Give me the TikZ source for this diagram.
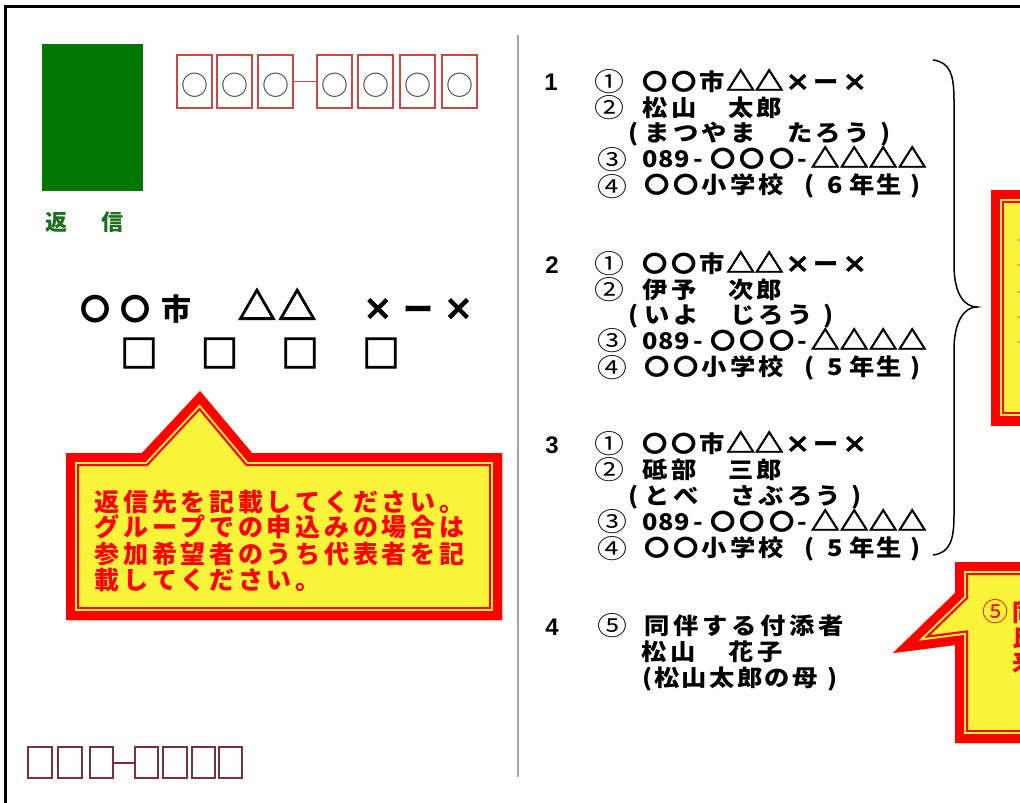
\documentclass[tikz,border=0pt]{standalone}
\usepackage{fontspec}
\usepackage{graphicx}
\newfontfamily\jp{Noto Sans CJK JP}
\newfontfamily\jpw{Noto Sans CJK JP}[FakeStretch=1.1]
\newfontfamily\jpcn{Noto Sans CJK JP}[FakeStretch=1.15]
\newfontfamily\lsans{Liberation Sans}
\definecolor{redc}{RGB}{255,0,0}
\definecolor{yelc}{RGB}{249,243,57}
\definecolor{stampgreen}{RGB}{0,119,0}
\definecolor{textgreen}{RGB}{30,110,30}
\definecolor{postred}{RGB}{205,70,70}
\definecolor{postdark}{RGB}{120,50,60}
\definecolor{sepgray}{RGB}{165,165,165}
\definecolor{dashorange}{RGB}{250,175,60}
\newcommand\cells[2]{\def\cellw{#1}\cellsloop#2\relax}
\def\cellsloop#1{\ifx\relax#1\else\makebox[\cellw][c]{#1}\expandafter\cellsloop\fi}
% bold, slightly enlarged symbols
\def\tri{{\addfontfeature{FakeBold=2.5}\scalebox{1.15}{△}}}
\def\crs{{\addfontfeature{FakeBold=2}×}}
\def\btri{{\addfontfeature{FakeBold=2.4}\scalebox{1.28}{△}}}
\def\bcrs{{\addfontfeature{FakeBold=2.4}×}}
\newcommand\callout[1]{%
  \fill[yelc] #1;
  \begin{scope}
    \clip #1;
    \draw[redc,line width=26pt,line join=miter] #1;
    \draw[yelc,line width=21.6pt,line join=miter] #1;
    \draw[redc,line width=17.6pt,line join=miter] #1;
  \end{scope}}
\tikzset{
  lst/.style={anchor=base west,inner sep=0pt,font=\jpw\bfseries\fontsize{23pt}{23pt}\selectfont},
  circnum/.style={anchor=center,inner sep=0pt,font=\jpcn\fontsize{26pt}{26pt}\selectfont},
  grpnum/.style={anchor=base,inner sep=0pt,font=\lsans\bfseries\fontsize{24pt}{24pt}\selectfont},
  addr/.style={anchor=base west,inner sep=0pt,font=\jp\bfseries\fontsize{30pt}{30pt}\selectfont},
  sqr/.style={anchor=center,inner sep=0pt,font=\jp\bfseries\fontsize{38pt}{38pt}\addfontfeature{FakeBold=2.5}\selectfont},
  caltext/.style={anchor=base west,inner sep=0pt,text=redc,font=\jp\bfseries\fontsize{25pt}{25pt}\selectfont},
  topbox/.style={draw=postred,line width=1.5pt,minimum width=35pt,minimum height=53pt,inner sep=0pt},
  postcirc/.style={anchor=center,inner sep=0pt,text=black!75,font=\jp\fontsize{27pt}{27pt}\selectfont},
  botbox/.style={draw=postdark,line width=2pt,minimum width=23.5pt,minimum height=31pt,inner sep=0pt},
}
\begin{document}
\begin{tikzpicture}[x=1pt,y=-1pt]
\useasboundingbox (0,0) rectangle (1020,803);
\clip (0,0) rectangle (1020,803);
\fill[white] (0,0) rectangle (1020,803);
% frame
\draw[black,line width=3pt] (5,803) -- (5,6.5) -- (1020,6.5);
% stamp
\node[fill=stampgreen,minimum width=101pt,minimum height=147pt,inner sep=0pt] (stamp) at (92.5,117.5) {};
\node[anchor=base,inner sep=0pt,text=textgreen,font=\jp\bfseries\fontsize{22pt}{22pt}\selectfont] (hen) at (56,230) {返};
\node[anchor=base,inner sep=0pt,text=textgreen,font=\jp\bfseries\fontsize{22pt}{22pt}\selectfont] (shin) at (112,230) {信};
% top postal boxes
\foreach \px [count=\i] in {194.5,234.5,275.5,334.5,375.5,417.5,459.5}{
  \node[topbox] (p\i) at (\px,81.5) {};
  \node[postcirc] (pc\i) at (\px,85) {○};
}
\draw[postred,line width=1.5pt] (p3.east) -- (p4.west);
% address
\node[addr] (ad1) at (75.35,320) {\cells{40.3pt}{〇〇市　\btri\btri　\bcrs ー\bcrs}};
\node[sqr] (sq1) at (139,353) {□};
\node[sqr] (sq2) at (219.5,353) {□};
\node[sqr] (sq3) at (300,353) {□};
\node[sqr] (sq4) at (381,353) {□};
% left callout
\callout{(66,453) -- (142,453) -- (200,391) -- (252,453) -- (502,453) -- (502,620) -- (66,620) -- cycle}
\node[caltext] (ct1) at (92.65,511.5) {\cells{28.7pt}{返信先を記載してください。}};
\node[caltext] (ct2) at (92.65,536.5) {\cells{28.7pt}{グループでの申込みの場合は}};
\node[caltext] (ct3) at (92.65,563.5) {\cells{28.7pt}{参加希望者のうち代表者を記}};
\node[caltext] (ct4) at (92.65,589.5) {\cells{28.7pt}{載してください。}};
% bottom postal boxes
\node[botbox] (q1) at (40,762.5) {};
\node[botbox] (q2) at (70,762.5) {};
\node[botbox] (q3) at (101.5,762.5) {};
\node[botbox] (q4) at (146.5,762.5) {};
\node[botbox] (q5) at (175,762.5) {};
\node[botbox] (q6) at (203.5,762.5) {};
\node[botbox] (q7) at (230.5,762.5) {};
\draw[postdark,line width=2pt] (q3.east) -- (q4.west);
% separator
\coordinate (sepT) at (518,35);
\coordinate (sepB) at (518,777);
\draw[sepgray,line width=2pt] (sepT) -- (sepB);
% group numbers
\node[grpnum] (n1) at (551,90) {1};
\node[grpnum] (n2) at (552,273) {2};
\node[grpnum] (n3) at (552,453) {3};
\node[grpnum] (n4) at (552,635) {4};
% group 1
\node[circnum] (g1c1) at (609.5,82) {①};
\node[circnum] (g1c2) at (609.5,108) {②};
\node[circnum] (g1c3) at (612,160) {③};
\node[circnum] (g1c4) at (612,187) {④};
\node[lst] (g1a) at (640.75,90.7) {\cells{28.5pt}{〇〇市\tri\tri\crs ー\crs}};
\node[lst] (g1b) at (640.75,116.7) {\cells{28.5pt}{松山　太郎}};
\node[lst] (g1r) at (623.75,141.7) {\cells{19pt}{(}\cells{28.5pt}{まつやま　たろう)}};
\node[lst] (g1d) at (642,167.7) {\cells{16pt}{089-}\hspace{2pt}\cells{29.5pt}{〇〇〇}\cells{12pt}{-}\hspace{2pt}\cells{29pt}{\tri\tri\tri\tri}};
\node[lst] (g1e) at (642.75,193.7) {\cells{28.5pt}{〇〇小学校}\hspace{10.5pt}\cells{26.5pt}{(6年生)}};
% group 2
\node[circnum] (g2c1) at (609.5,264) {①};
\node[circnum] (g2c2) at (609.5,290) {②};
\node[circnum] (g2c3) at (612,341) {③};
\node[circnum] (g2c4) at (612,368) {④};
\node[lst] (g2a) at (640.75,272.7) {\cells{28.5pt}{〇〇市\tri\tri\crs ー\crs}};
\node[lst] (g2b) at (640.75,298.7) {\cells{28.5pt}{伊予　次郎}};
\node[lst] (g2r) at (623.75,323.7) {\cells{19pt}{(}\cells{28.5pt}{いよ　じろう)}};
\node[lst] (g2d) at (642,349.7) {\cells{16pt}{089-}\hspace{2pt}\cells{29.5pt}{〇〇〇}\cells{12pt}{-}\hspace{2pt}\cells{29pt}{\tri\tri\tri\tri}};
\node[lst] (g2e) at (642.75,375.7) {\cells{28.5pt}{〇〇小学校}\hspace{10.5pt}\cells{26.5pt}{(5年生)}};
% group 3
\node[circnum] (g3c1) at (609.5,444) {①};
\node[circnum] (g3c2) at (609.5,470) {②};
\node[circnum] (g3c3) at (612,522) {③};
\node[circnum] (g3c4) at (612,549) {④};
\node[lst] (g3a) at (640.75,452.7) {\cells{28.5pt}{〇〇市\tri\tri\crs ー\crs}};
\node[lst] (g3b) at (640.75,478.7) {\cells{28.5pt}{砥部　三郎}};
\node[lst] (g3r) at (623.75,504.7) {\cells{19pt}{(}\cells{28.5pt}{とべ　さぶろう)}};
\node[lst] (g3d) at (642,530.7) {\cells{16pt}{089-}\hspace{2pt}\cells{29.5pt}{〇〇〇}\cells{12pt}{-}\hspace{2pt}\cells{29pt}{\tri\tri\tri\tri}};
\node[lst] (g3e) at (642.75,556.7) {\cells{28.5pt}{〇〇小学校}\hspace{10.5pt}\cells{26.5pt}{(5年生)}};
% group 4
\node[circnum] (g4c5) at (612,626) {⑤};
\node[lst] (g4a) at (642.5,634.7) {\cells{29pt}{同伴する付添者}};
\node[lst] (g4b) at (639,660.7) {\cells{29pt}{松山　花子}};
\node[lst] (g4c) at (641,686.7) {\cells{12pt}{(}\cells{27.6pt}{松山太郎の母)}};
% brace
\draw[black,line width=1.5pt] (933,60) .. controls (950,62) and (954,75) .. (954,100) -- (954,265)
  .. controls (954,295) and (965,307) .. (977,307) .. controls (965,307) and (954,320) .. (954,350)
  -- (954,515) .. controls (954,540) and (950,553) .. (933,555);
% right callout 1
\callout{(991,190) -- (1100,190) -- (1100,425) -- (991,425) -- cycle}
\foreach \yy in {240,265,292,317,342} \fill[dashorange] (1017,\yy-1) rectangle (1020,\yy+1);
% right callout 2
\callout{(955,562) -- (1100,562) -- (1100,743) -- (955,743) -- (955,645) -- (893,653) -- (955,593) -- cycle}
\node[anchor=center,inner sep=0pt,text=redc,font=\jp\fontsize{26pt}{26pt}\selectfont] (r5) at (995,612) {⑤};
\node[anchor=base west,inner sep=0pt,text=redc,font=\jp\bfseries\fontsize{24pt}{24pt}\selectfont] (rl1) at (1012,621) {同};
\node[anchor=base west,inner sep=0pt,text=redc,font=\jp\bfseries\fontsize{24pt}{24pt}\selectfont] (rl2) at (1012,646) {氏};
\node[anchor=base west,inner sep=0pt,text=redc,font=\jp\bfseries\fontsize{24pt}{24pt}\selectfont] (rl3) at (1012,671) {来};
\end{tikzpicture}
\end{document}
